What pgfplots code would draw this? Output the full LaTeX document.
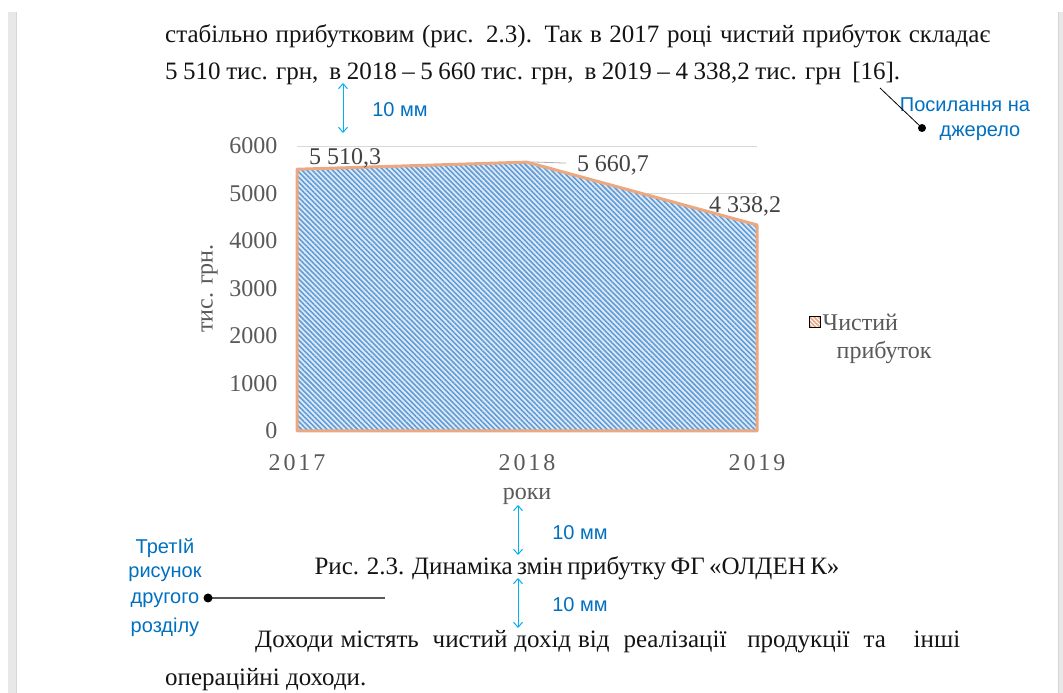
\documentclass[border=0pt]{standalone}
\usepackage{fontspec}
\setmainfont{Liberation Serif}
\newfontfamily\arial{Liberation Sans}
\newfontfamily\spaced[LetterSpace=12]{Liberation Serif}
\usepackage{pgfplots}
\pgfplotsset{compat=1.18}
\usetikzlibrary{patterns.meta,arrows.meta}
\definecolor{txt}{RGB}{20,20,20}
\definecolor{tickc}{RGB}{89,89,89}
\definecolor{gridc}{RGB}{217,217,217}
\definecolor{areablue}{RGB}{96,156,214}
\definecolor{areabase}{RGB}{222,234,248}
\definecolor{edgec}{RGB}{236,168,128}
\definecolor{annot}{RGB}{0,112,192}
\definecolor{arrowc}{RGB}{0,176,240}
\newcommand\body{\fontsize{25}{29}\selectfont}
\newcommand\ann{\arial\fontsize{20}{24}\selectfont}
\begin{document}
\begin{tikzpicture}
\begin{scope}[x=1pt,y=1pt]
\path[use as bounding box, fill=white] (0,0) rectangle (1063,693);
\fill[black!9] (8,0) rectangle (16,681);
\draw[black!16] (16,0) -- (16,681);
\fill[black!9] (1058,0) rectangle (1063,681);
\draw[black!16] (1058,0) -- (1058,681);
% body text
\node[anchor=base west, text=txt, font=\body, inner sep=0pt] at (165,650)
  {\makebox[825pt][s]{стабільно прибутковим (рис. 2.3). Так в 2017 році чистий прибуток складає}};
\node[anchor=base west, text=txt, font=\body, inner sep=0pt] at (165,613)
  {\makebox[735pt][s]{5 510 тис. грн,\ \ в 2018 – 5 660 тис. грн,\ \ в 2019 – 4 338,2 тис. грн\ \ [16].}};
\node[anchor=base, text=txt, font=\body, inner sep=0pt] at (577,118)
  {\makebox[525pt][s]{Рис. 2.3. Динаміка змін прибутку ФГ «ОЛДЕН К»}};
\node[anchor=base west, text=txt, font=\body, inner sep=0pt] at (255,45)
  {\makebox[705pt][s]{Доходи містять\ \ чистий дохід від\ \ реалізації\ \ \ продукції\ \ та\ \ \ \ інші}};
\node[anchor=base west, text=txt, font=\body, inner sep=0pt] at (165,7)
  {операційні доходи.};
% annotations
\node[text=annot, font=\ann] at (400,583) {10 мм};
\node[text=annot, font=\ann] at (580,160) {10 мм};
\node[text=annot, font=\ann] at (580,88) {10 мм};
\node[text=annot, font=\ann] at (965,588) {Посилання на};
\node[text=annot, font=\ann] at (980,560) {джерело};
\node[text=annot, font=\ann] at (165,145) {ТретІй};
\node[text=annot, font=\ann] at (165,119) {рисунок};
\node[text=annot, font=\ann] at (165,93) {другого};
\node[text=annot, font=\ann] at (165,66) {розділу};
\draw[arrowc, line width=1pt, {Straight Barb[length=5pt,width=9pt]}-{Straight Barb[length=5pt,width=9pt]}] (343,610) -- (343,560);
\draw[arrowc, line width=1pt, {Straight Barb[length=5pt,width=9pt]}-{Straight Barb[length=5pt,width=9pt]}] (518,188) -- (518,138);
\draw[arrowc, line width=1pt, {Straight Barb[length=5pt,width=9pt]}-{Straight Barb[length=5pt,width=9pt]}] (518,115) -- (518,65);
\draw[black, line width=0.8pt] (880,605) -- (922,565);
\fill[black] (922,565) circle (4);
\draw[black!65, line width=1.5pt] (208,95) -- (385,95);
\fill[black] (208,95) circle (4.5);
\end{scope}
% chart
\begin{axis}[
  at={(297pt,262pt)}, anchor=south west,
  scale only axis, width=460pt, height=285pt,
  xmin=0, xmax=2, ymin=0, ymax=6000,
  xtick={0,1,2}, xticklabels={2017,2018,2019},
  ytick={0,1000,2000,3000,4000,5000,6000},
  scaled y ticks=false,
  /pgf/number format/1000 sep={},
  /pgf/number format/assume math mode=true,
  ymajorgrids, grid style={gridc, line width=0.8pt},
  axis line style={draw=none},
  major tick length=0pt,
  tick label style={text=tickc},
  yticklabel style={font=\fontsize{24}{27}\selectfont, xshift=-16pt},
  xticklabel style={font=\spaced\fontsize{24}{27}\selectfont, yshift=-20pt},
  ylabel={тис. грн.}, xlabel={роки},
  label style={font=\fontsize{24}{27}\selectfont, text=tickc},
  ylabel style={at={(axis description cs:-0.19,0.5)}, anchor=center},
  xlabel style={at={(axis description cs:0.5,-0.228)}, anchor=center},
  legend style={draw=none, fill=none, at={(1.112,0.43)}, anchor=north west,
    font=\fontsize{24}{28}\selectfont, text=tickc, inner sep=0pt},
  legend cell align=left,
  clip=false,
]
\addplot[forget plot, draw=none, fill=areabase]
  coordinates {(0,5510.3) (1,5660.7) (2,4338.2)} \closedcycle;
\addplot[forget plot, draw=none, pattern={Lines[angle=-45,distance=3.6pt,line width=1.6pt]}, pattern color=areablue]
  coordinates {(0,5510.3) (1,5660.7) (2,4338.2)} \closedcycle;
\addplot[forget plot, draw=edgec, line width=3pt, line join=round]
  coordinates {(0,5510.3) (1,5660.7) (2,4338.2)} \closedcycle;
\addlegendimage{legend image code/.code={
  \fill[edgec] (0pt,-6pt) rectangle (11pt,5pt);
  \fill[pattern={Lines[angle=-45,distance=3pt,line width=1pt]}, pattern color=white] (0pt,-6pt) rectangle (11pt,5pt);}}
\addlegendentry{\begin{tabular}[t]{@{}l@{}}Чистий\\\hspace{14pt}прибуток\end{tabular}}
\node[font=\fontsize{24}{27}\selectfont, text=tickc!75!black] at (axis cs:0.209,5740) {5 510,3};
\node[font=\fontsize{24}{27}\selectfont, text=tickc!75!black] at (axis cs:1.374,5590) {5 660,7};
\node[font=\fontsize{24}{27}\selectfont, text=tickc!75!black] at (axis cs:1.948,4730) {4 338,2};
\draw[gridc!80!black, line width=0.8pt] (axis cs:1.02,5665) -- (axis cs:1.17,5640);
\end{axis}
\end{tikzpicture}
\end{document}
